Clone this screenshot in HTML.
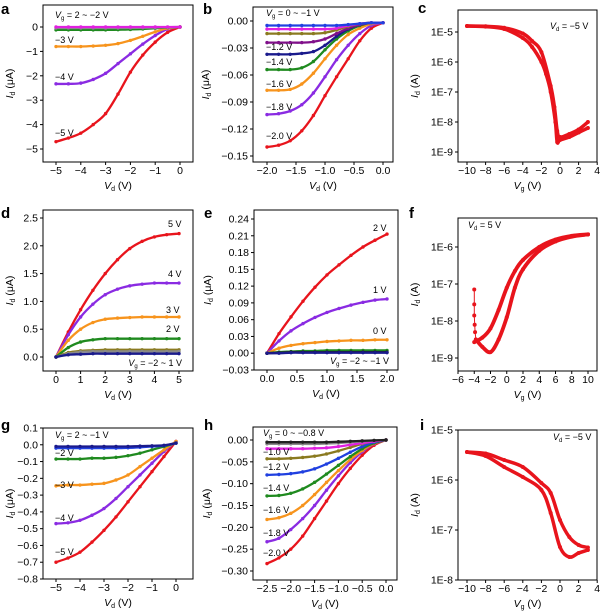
<!DOCTYPE html>
<html><head><meta charset="utf-8">
<style>
html,body{margin:0;padding:0;background:#fff;}
svg{display:block;font-family:"Liberation Sans",Arial,sans-serif;}
</style></head>
<body>
<svg id="fig" width="600" height="612" viewBox="0 0 600 612" xmlns="http://www.w3.org/2000/svg"></svg>
<script>
// ---------- DATA ----------
const aX=[-5,-4.5,-4,-3.5,-3,-2.5,-2,-1.5,-1,-0.5,0];
const aRed=[-4.7,-4.55,-4.35,-4.0,-3.55,-2.75,-1.85,-1.15,-0.62,-0.22,0];
const aPurple=[-2.33,-2.33,-2.3,-2.15,-1.9,-1.5,-1.1,-0.7,-0.35,-0.08,0];
const aOrange=[-0.8,-0.8,-0.8,-0.78,-0.75,-0.68,-0.55,-0.38,-0.2,-0.05,0];
const aGreen=[-0.12,-0.12,-0.12,-0.12,-0.12,-0.11,-0.1,-0.08,-0.05,-0.02,0];
const aBlue=[-0.04,-0.04,-0.04,-0.04,-0.04,-0.04,-0.035,-0.03,-0.02,-0.01,0];
const aMagenta=[0,0,0,0,0,0,0,0,0,0,0];

const bX=[-2,-1.8,-1.6,-1.4,-1.2,-1,-0.8,-0.6,-0.4,-0.2,0];
const bRed=[-0.14,-0.138,-0.133,-0.122,-0.105,-0.083,-0.062,-0.042,-0.022,-0.008,-0.002];
const bPurple=[-0.104,-0.103,-0.1,-0.093,-0.08,-0.062,-0.043,-0.027,-0.014,-0.005,-0.002];
const bOrange=[-0.077,-0.077,-0.076,-0.07,-0.058,-0.042,-0.027,-0.015,-0.008,-0.003,-0.002];
const bGreen=[-0.054,-0.054,-0.054,-0.052,-0.045,-0.032,-0.02,-0.011,-0.005,-0.002,-0.002];
const bNavy=[-0.037,-0.037,-0.037,-0.036,-0.034,-0.027,-0.017,-0.009,-0.004,-0.002,-0.002];
const bDkPurple=[-0.024,-0.024,-0.024,-0.024,-0.023,-0.02,-0.014,-0.008,-0.004,-0.002,-0.002];
const bOlive=[-0.014,-0.014,-0.014,-0.014,-0.014,-0.013,-0.01,-0.006,-0.003,-0.002,-0.002];
const bMagenta=[-0.009,-0.009,-0.009,-0.009,-0.009,-0.009,-0.008,-0.005,-0.003,-0.002,-0.002];
const bBlue=[-0.005,-0.005,-0.005,-0.005,-0.005,-0.005,-0.005,-0.004,-0.003,-0.002,-0.002];

const cFwdX=[-10,-8,-6,-4,-3,-2,-1.5,-1,-0.5,-0.3,0,1,2,3];
const cFwdY=[-4.8,-4.82,-4.9,-5.2,-5.5,-6.0,-6.4,-7.0,-8.0,-8.67,-8.6,-8.5,-8.35,-8.2];
const cRevX=[3,2,1,0,-0.3,-0.6,-1,-2,-3,-4,-6,-8,-10];
const cRevY=[-8.0,-8.25,-8.4,-8.5,-8.3,-7.5,-6.8,-5.67,-5.3,-5.05,-4.86,-4.81,-4.8];

const dX=[0,0.5,1,1.5,2,2.5,3,3.5,4,4.5,5];
const dRed=[0,0.45,0.85,1.2,1.5,1.75,1.95,2.08,2.16,2.2,2.22];
const dPurple=[0,0.4,0.72,0.95,1.12,1.22,1.28,1.31,1.33,1.33,1.33];
const dOrange=[0,0.3,0.5,0.62,0.68,0.7,0.71,0.72,0.72,0.72,0.72];
const dGreen=[0,0.17,0.27,0.31,0.33,0.33,0.33,0.33,0.33,0.33,0.33];
const dOlive=[0,0.08,0.11,0.12,0.13,0.13,0.13,0.13,0.13,0.13,0.13];
const dGray=[0,0.06,0.09,0.1,0.1,0.1,0.1,0.1,0.1,0.1,0.1];
const dBlue=[0,0.04,0.05,0.06,0.06,0.06,0.06,0.06,0.06,0.06,0.06];

const eX=[0,0.2,0.4,0.6,0.8,1,1.2,1.4,1.6,1.8,2];
const eRed=[0,0.035,0.065,0.093,0.118,0.14,0.158,0.175,0.19,0.202,0.213];
const ePurple=[0,0.022,0.04,0.053,0.064,0.073,0.08,0.086,0.091,0.095,0.097];
const eOrange=[0,0.009,0.014,0.017,0.019,0.021,0.022,0.023,0.023,0.024,0.024];
const eGreen=[0,0.002,0.003,0.004,0.004,0.005,0.005,0.005,0.005,0.005,0.005];
const eBlack=[0,0.001,0.002,0.002,0.002,0.002,0.002,0.002,0.002,0.002,0.002];
const eNavy=[0,0.0,0.001,0.001,0.001,0.001,0.001,0.001,0.001,0.001,0.001];

const fSpikeX=[-4,-4,-4,-3.95,-3.9,-3.8];
const fSpikeY=[-7.15,-7.55,-7.85,-8.1,-8.3,-8.5];
const fAX=[-4,-3,-2,-1,0,1,2,4,6,8,10];
const fAY=[-8.57,-8.45,-8.2,-7.7,-7.1,-6.65,-6.35,-6.0,-5.8,-5.7,-5.66];
const fBX=[10,8,6,4,2,1,0,-1,-2,-3,-3.8];
const fBY=[-5.66,-5.72,-5.85,-6.1,-6.6,-7.1,-7.9,-8.5,-8.84,-8.7,-8.5];

const gX=[-5,-4.5,-4,-3.5,-3,-2.5,-2,-1.5,-1,-0.5,0];
const gRed=[-0.70,-0.675,-0.64,-0.58,-0.51,-0.43,-0.34,-0.25,-0.16,-0.07,0.02];
const gPurple=[-0.47,-0.465,-0.45,-0.42,-0.38,-0.32,-0.25,-0.18,-0.11,-0.04,0.02];
const gOrange=[-0.245,-0.24,-0.24,-0.235,-0.23,-0.21,-0.18,-0.13,-0.08,-0.03,0.02];
const gGreen=[-0.085,-0.085,-0.085,-0.08,-0.08,-0.075,-0.065,-0.05,-0.03,-0.01,0.01];
const gBlue=[-0.02,-0.02,-0.02,-0.02,-0.02,-0.02,-0.018,-0.015,-0.01,-0.005,0.01];
const gBlack=[-0.01,-0.01,-0.01,-0.01,-0.01,-0.01,-0.01,-0.008,-0.006,-0.003,0.01];

const hX=[-2.5,-2.25,-2,-1.75,-1.5,-1.25,-1,-0.75,-0.5,-0.25,0];
const hRed=[-0.283,-0.27,-0.25,-0.22,-0.18,-0.14,-0.1,-0.065,-0.035,-0.012,0];
const hPurple=[-0.233,-0.225,-0.205,-0.18,-0.15,-0.115,-0.082,-0.052,-0.027,-0.009,0];
const hOrange=[-0.182,-0.178,-0.168,-0.15,-0.125,-0.097,-0.07,-0.045,-0.024,-0.008,0];
const hGreen=[-0.128,-0.127,-0.122,-0.112,-0.097,-0.078,-0.058,-0.038,-0.02,-0.007,0];
const hBlue=[-0.08,-0.079,-0.077,-0.073,-0.066,-0.055,-0.042,-0.028,-0.015,-0.005,0];
const hOlive=[-0.043,-0.043,-0.042,-0.04,-0.037,-0.032,-0.025,-0.017,-0.009,-0.003,0];
const hMagenta=[-0.02,-0.02,-0.02,-0.02,-0.019,-0.018,-0.015,-0.011,-0.007,-0.003,0];
const hGray=[-0.009,-0.009,-0.009,-0.009,-0.009,-0.008,-0.007,-0.005,-0.003,-0.001,0];
const hBlack=[-0.005,-0.005,-0.005,-0.005,-0.005,-0.005,-0.004,-0.003,-0.002,-0.001,0];

const iUpX=[-10,-8,-6,-4,-2,-1,0,1,2,3];
const iUpY=[-5.44,-5.47,-5.6,-5.74,-6.06,-6.26,-6.8,-7.14,-7.3,-7.35];
const iLoX=[-10,-8,-6,-4,-2,-1,0,1,2,3];
const iLoY=[-5.44,-5.52,-5.74,-5.94,-6.2,-6.66,-7.34,-7.54,-7.46,-7.4];

// tick values / labels
const aXT=[-5,-4,-3,-2,-1,0], aXL=["−5","−4","−3","−2","−1","0"];
const aYT=[0,-1,-2,-3,-4,-5], aYL=["0","−1","−2","−3","−4","−5"];
const bXT=[-2,-1.5,-1,-0.5,0], bXL=["−2.0","−1.5","−1.0","−0.5","0.0"];
const bYT=[0,-0.03,-0.06,-0.09,-0.12,-0.15], bYL=["0.00","−0.03","−0.06","−0.09","−0.12","−0.15"];
const cXT=[-10,-8,-6,-4,-2,0,2,4], cXL=["−10","−8","−6","−4","−2","0","2","4"];
const cYT=[-5,-6,-7,-8,-9], cYL=["1E-5","1E-6","1E-7","1E-8","1E-9"];
const dXT=[0,1,2,3,4,5], dXL=["0","1","2","3","4","5"];
const dYT=[0,0.5,1,1.5,2,2.5], dYL=["0.0","0.5","1.0","1.5","2.0","2.5"];
const eXT=[0,0.5,1,1.5,2], eXL=["0.0","0.5","1.0","1.5","2.0"];
const eYT=[-0.03,0,0.03,0.06,0.09,0.12,0.15,0.18,0.21,0.24], eYL=["−0.03","0.00","0.03","0.06","0.09","0.12","0.15","0.18","0.21","0.24"];
const fXT=[-6,-4,-2,0,2,4,6,8,10], fXL=["−6","−4","−2","0","2","4","6","8","10"];
const fYT=[-6,-7,-8,-9], fYL=["1E-6","1E-7","1E-8","1E-9"];
const gXT=[-5,-4,-3,-2,-1,0], gXL=["−5","−4","−3","−2","−1","0"];
const gYT=[0.1,0,-0.1,-0.2,-0.3,-0.4,-0.5,-0.6,-0.7,-0.8], gYL=["0.1","0.0","−0.1","−0.2","−0.3","−0.4","−0.5","−0.6","−0.7","−0.8"];
const hXT=[-2.5,-2,-1.5,-1,-0.5,0], hXL=["−2.5","−2.0","−1.5","−1.0","−0.5","0.0"];
const hYT=[0,-0.05,-0.1,-0.15,-0.2,-0.25,-0.3], hYL=["0.00","−0.05","−0.10","−0.15","−0.20","−0.25","−0.30"];
const iXT=[-10,-8,-6,-4,-2,0,2,4], iXL=["−10","−8","−6","−4","−2","0","2","4"];
const iYT=[-5,-6,-7,-8], iYL=["1E-5","1E-6","1E-7","1E-8"];

// ---------- DRAWING ----------
const NS="http://www.w3.org/2000/svg";
const svg=document.getElementById('fig');
function mk(tag,attrs,parent){const e=document.createElementNS(NS,tag);for(const k in attrs)e.setAttribute(k,attrs[k]);(parent||svg).appendChild(e);return e;}
const C={red:"#e8141c",purple:"#8a2be2",orange:"#f7941d",green:"#1f8a1f",navy:"#1a1a8c",blue:"#2040e0",magenta:"#e020e0",olive:"#8a7a20",dkpurple:"#80108a",gray:"#8a8a8a",black:"#222"};

function smoothPath(P){
  if(P.length<3) return 'M'+P.map(p=>p[0].toFixed(1)+','+p[1].toFixed(1)).join(' L');
  let d='M'+P[0][0].toFixed(1)+','+P[0][1].toFixed(1);
  for(let i=0;i<P.length-1;i++){
    const p0=P[i-1]||P[i],p1=P[i],p2=P[i+1],p3=P[i+2]||P[i+1];
    const c1=[p1[0]+(p2[0]-p0[0])/6,p1[1]+(p2[1]-p0[1])/6];
    const c2=[p2[0]-(p3[0]-p1[0])/6,p2[1]-(p3[1]-p1[1])/6];
    d+=' C'+c1[0].toFixed(1)+','+c1[1].toFixed(1)+' '+c2[0].toFixed(1)+','+c2[1].toFixed(1)+' '+p2[0].toFixed(1)+','+p2[1].toFixed(1);
  }
  return d;
}

function panel(p){
  const g=mk('g',{});
  
  
  const sx=v=>p.xp1+(v-p.xv1)*(p.xp2-p.xp1)/(p.xv2-p.xv1);
  const sy=v=>p.yp1+(v-p.yv1)*(p.yp2-p.yp1)/(p.yv2-p.yv1);
  const L=mk('text',{x:p.lx,y:p.ly,'font-size':15,'font-weight':'bold',fill:'#000'},g);L.textContent=p.id;
  
  
  const B=mk('rect',{x:p.box[0],y:p.box[1],width:p.box[2]-p.box[0],height:p.box[3]-p.box[1],fill:'none',stroke:'#000','stroke-width':1},g);
  
  
  const xt=mk('g',{},g);
  
  
  p.xT.forEach((v,k)=>{const x=sx(v);
    mk('line',{x1:x,x2:x,y1:p.box[3],y2:p.box[3]+3,stroke:'#000'},xt);
    const t=mk('text',{x:x,y:p.box[3]+12,'font-size':10.5,'text-anchor':'middle'},xt);t.textContent=p.xL[k];});
  const yt=mk('g',{},g);
  
  
  p.yT.forEach((v,k)=>{const y=sy(v);
    mk('line',{x1:p.box[0]-3,x2:p.box[0],y1:y,y2:y,stroke:'#000'},yt);
    const t=mk('text',{x:p.box[0]-5,y:y+3.5,'font-size':10.5,'text-anchor':'end'},yt);t.textContent=p.yL[k];});
  const xtT=mk('text',{x:(p.box[0]+p.box[2])/2,y:p.box[3]+27,'font-size':10.5,'text-anchor':'middle'},g);
  xtT.innerHTML='<tspan font-style="italic">V</tspan><tspan font-size="7" dy="2">'+p.xsub+'</tspan><tspan dy="-2"> (V)</tspan>';
  
  
  const cy=(p.box[1]+p.box[3])/2;
  const ytT=mk('text',{x:p.ytx,y:cy,'font-size':10.5,'text-anchor':'middle',transform:'rotate(-90 '+p.ytx+' '+cy+')'},g);
  ytT.innerHTML='<tspan font-style="italic">I</tspan><tspan font-size="7" dy="2">d</tspan><tspan dy="-2"> ('+p.unit+')</tspan>';
  
  
  p.series.forEach(s=>{
    const sg=mk('g',{},g);
    
    
    const P=s.x.map((v,k)=>[sx(v),sy(s.y[k])]);
    mk('path',{d:s.straight?'M'+P.map(q=>q[0].toFixed(1)+','+q[1].toFixed(1)).join(' L'):smoothPath(P),fill:'none',stroke:s.c,'stroke-width':s.w||2.3,'stroke-linejoin':'round','stroke-linecap':'round'},sg);
    s.x.forEach((v,k)=>{const m=mk('circle',{cx:sx(v),cy:sy(s.y[k]),r:s.r||1.7,fill:s.c},sg);
      
      });
  });
  (p.ann||[]).forEach(a=>{
    const t=mk('text',{x:a[0],y:a[1],'font-size':9,'text-anchor':a[3]||'start'},g);
    t.innerHTML=a[2];
    
    
  });
}
const VG=(s)=>'<tspan font-style="italic">V</tspan><tspan font-size="6" dy="2">g</tspan><tspan dy="-2">'+s+'</tspan>';
const VD=(s)=>'<tspan font-style="italic">V</tspan><tspan font-size="6" dy="2">d</tspan><tspan dy="-2">'+s+'</tspan>';

panel({id:'a',lx:1,ly:14,box:[43,5,193,162],xv1:-5,xp1:56,xv2:0,xp2:180,yv1:0,yp1:27,yv2:-5,yp2:149,
  xT:aXT,xL:aXL,yT:aYT,yL:aYL,xsub:'d',unit:'μA',ytx:13,
  series:[{name:'vg-m5',x:aX,y:aRed,c:C.red},{name:'vg-m4',x:aX,y:aPurple,c:C.purple},{name:'vg-m3',x:aX,y:aOrange,c:C.orange},
    {name:'vg-m2',x:aX,y:aGreen,c:C.green},{name:'vg-m1',x:aX,y:aBlue,c:C.gray},{name:'vg-2',x:aX,y:aMagenta,c:C.magenta}],
  ann:[[55,18,VG(' = 2 ~ −2 V')],[55,43,'−3 V'],[55,80,'−4 V'],[55,136,'−5 V']]});

panel({id:'b',lx:203,ly:14,box:[253,7,393,162],xv1:-2,xp1:267,xv2:0,xp2:383,yv1:0,yp1:21,yv2:-0.15,yp2:156,
  xT:bXT,xL:bXL,yT:bYT,yL:bYL,xsub:'d',unit:'μA',ytx:209,
  series:[{name:'vg-m2.0',x:bX,y:bRed,c:C.red},{name:'vg-m1.8',x:bX,y:bPurple,c:C.purple},{name:'vg-m1.6',x:bX,y:bOrange,c:C.orange},
    {name:'vg-m1.4',x:bX,y:bGreen,c:C.green},{name:'vg-m1.2',x:bX,y:bNavy,c:C.navy},{name:'vg-m1.0',x:bX,y:bDkPurple,c:C.dkpurple},
    {name:'vg-m0.8',x:bX,y:bOlive,c:C.olive},{name:'vg-m0.6',x:bX,y:bMagenta,c:C.magenta},{name:'vg-m0.4',x:bX,y:bBlue,c:C.blue}],
  ann:[[266,16,VG(' = 0 ~ −1 V')],[266,50,'−1.2 V'],[266,65,'−1.4 V'],[266,87,'−1.6 V'],[266,110,'−1.8 V'],[266,139,'−2.0 V']]});

panel({id:'c',lx:418,ly:13,box:[458,10,597,162],xv1:-10,xp1:467,xv2:0,xp2:560,yv1:-5,yp1:32,yv2:-9,yp2:152,
  xT:cXT,xL:cXL,yT:cYT,yL:cYL,xsub:'g',unit:'A',ytx:418,
  series:[{name:'forward-sweep',x:cFwdX,y:cFwdY,c:C.red,w:3.5,r:2},{name:'reverse-sweep',x:cRevX,y:cRevY,c:C.red,w:3.5,r:2}],
  ann:[[550,29,VD(' = −5 V')]]});

panel({id:'d',lx:1,ly:218,box:[43,210,193,371],xv1:0,xp1:56,xv2:5,xp2:179,yv1:0,yp1:357,yv2:2.5,yp2:218,
  xT:dXT,xL:dXL,yT:dYT,yL:dYL,xsub:'d',unit:'μA',ytx:13,
  series:[{name:'vg-5',x:dX,y:dRed,c:C.red},{name:'vg-4',x:dX,y:dPurple,c:C.purple},{name:'vg-3',x:dX,y:dOrange,c:C.orange},
    {name:'vg-2',x:dX,y:dGreen,c:C.green},{name:'vg-1',x:dX,y:dOlive,c:C.olive},{name:'vg-0',x:dX,y:dGray,c:C.gray},{name:'vg-m2',x:dX,y:dBlue,c:C.navy}],
  ann:[[168,227,'5 V'],[168,277,'4 V'],[166,313,'3 V'],[166,332,'2 V'],[182,366,VG(' = −2 ~ 1 V'),'end']]});

panel({id:'e',lx:204,ly:218,box:[254,210,398,370],xv1:0,xp1:267,xv2:2,xp2:387,yv1:0.24,yp1:219,yv2:-0.03,yp2:370,
  xT:eXT,xL:eXL,yT:eYT,yL:eYL,xsub:'d',unit:'μA',ytx:211,
  series:[{name:'vg-2',x:eX,y:eRed,c:C.red},{name:'vg-1',x:eX,y:ePurple,c:C.purple},{name:'vg-0',x:eX,y:eOrange,c:C.orange},
    {name:'vg-m1',x:eX,y:eGreen,c:C.green},{name:'vg-m1.5',x:eX,y:eBlack,c:C.black},{name:'vg-m2',x:eX,y:eNavy,c:C.navy}],
  ann:[[373,231,'2 V'],[373,293,'1 V'],[373,334,'0 V'],[389,364,VG(' = −2 ~ −1 V'),'end']]});

panel({id:'f',lx:409,ly:218,box:[458,218,597,371],xv1:-6,xp1:458,xv2:10,xp2:588,yv1:-6,yp1:247,yv2:-9,yp2:358,
  xT:fXT,xL:fXL,yT:fYT,yL:fYL,xsub:'g',unit:'A',ytx:418,
  series:[{name:'spike',x:fSpikeX,y:fSpikeY,c:C.red,w:1,r:2,straight:true},{name:'forward-sweep',x:fAX,y:fAY,c:C.red,w:3.8,r:2},{name:'reverse-sweep',x:fBX,y:fBY,c:C.red,w:3.8,r:2}],
  ann:[[468,228,VD(' = 5 V')]]});

panel({id:'g',lx:1,ly:430,box:[43,428,193,579],xv1:-5,xp1:56,xv2:0,xp2:176,yv1:0.1,yp1:428,yv2:-0.8,yp2:579,
  xT:gXT,xL:gXL,yT:gYT,yL:gYL,xsub:'d',unit:'μA',ytx:13,
  series:[{name:'vg-m5',x:gX,y:gRed,c:C.red},{name:'vg-m4',x:gX,y:gPurple,c:C.purple},{name:'vg-m3',x:gX,y:gOrange,c:C.orange},
    {name:'vg-m2',x:gX,y:gGreen,c:C.green},{name:'vg-m1',x:gX,y:gBlue,c:C.blue},{name:'vg-0',x:gX,y:gBlack,c:C.navy}],
  ann:[[55,438,VG(' = 2 ~ −1 V')],[55,456,'−2 V'],[55,488,'−3 V'],[55,521,'−4 V'],[55,555,'−5 V']]});

panel({id:'h',lx:204,ly:430,box:[253,427,397,580],xv1:-2.5,xp1:267,xv2:0,xp2:386,yv1:0,yp1:440,yv2:-0.3,yp2:571,
  xT:hXT,xL:hXL,yT:hYT,yL:hYL,xsub:'d',unit:'μA',ytx:210,
  series:[{name:'vg-m2.0',x:hX,y:hRed,c:C.red},{name:'vg-m1.8',x:hX,y:hPurple,c:C.purple},{name:'vg-m1.6',x:hX,y:hOrange,c:C.orange},
    {name:'vg-m1.4',x:hX,y:hGreen,c:C.green},{name:'vg-m1.2',x:hX,y:hBlue,c:C.blue},{name:'vg-m1.0',x:hX,y:hOlive,c:C.olive},
    {name:'vg-m0.8',x:hX,y:hMagenta,c:C.magenta},{name:'vg-m0.4',x:hX,y:hGray,c:C.gray},{name:'vg-0',x:hX,y:hBlack,c:C.black}],
  ann:[[263,436,VG(' = 0 ~ −0.8 V')],[263,455,'−1.0 V'],[263,470,'−1.2 V'],[263,491,'−1.4 V'],[263,513,'−1.6 V'],[263,536,'−1.8 V'],[263,556,'−2.0 V']]});

panel({id:'i',lx:420,ly:430,box:[458,430,597,580],xv1:-10,xp1:467,xv2:0,xp2:560,yv1:-5,yp1:430,yv2:-8,yp2:580,
  xT:iXT,xL:iXL,yT:iYT,yL:iYL,xsub:'g',unit:'A',ytx:418,
  series:[{name:'upper-sweep',x:iUpX,y:iUpY,c:C.red,w:3.5,r:2},{name:'lower-sweep',x:iLoX,y:iLoY,c:C.red,w:3.5,r:2}],
  ann:[[553,440,VD(' = −5 V')]]});
</script>
</body></html>
